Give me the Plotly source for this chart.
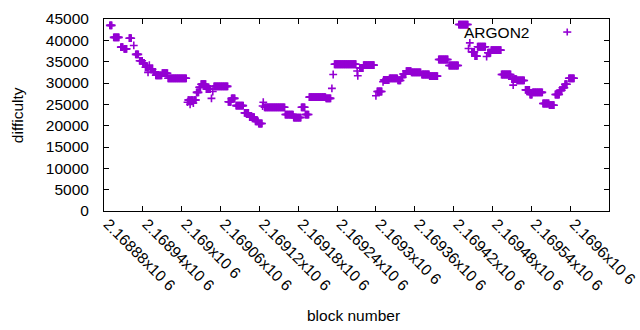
import plotly.graph_objects as go

# Runs of consecutive blocks sharing one difficulty value
run_start = [
    2168889, 2168895, 2168906, 2168911, 2168919, 2168926, 2168929, 2168935, 2168940, 2168944,
    2168948, 2168950, 2168952, 2168956, 2168960, 2168970, 2168979, 2169009, 2169010, 2169013,
    2169014, 2169018, 2169019, 2169023, 2169027, 2169030, 2169038, 2169046, 2169048, 2169050,
    2169072, 2169077, 2169084, 2169097, 2169105, 2169114, 2169119, 2169125, 2169126, 2169128,
    2169160, 2169173, 2169185, 2169191, 2169197, 2169223, 2169232, 2169234, 2169236, 2169271,
    2169272, 2169275, 2169281, 2169300, 2169302, 2169311, 2169312, 2169321, 2169334, 2169339,
    2169342, 2169347, 2169355, 2169371, 2169383, 2169397, 2169413, 2169428, 2169443, 2169445,
    2169448, 2169453, 2169457, 2169471, 2169473, 2169478, 2169494, 2169510, 2169512, 2169513,
    2169518, 2169531, 2169538, 2169542, 2169558, 2169568, 2169577, 2169584, 2169588, 2169592,
    2169598,
]
run_end = [
    2168892, 2168903, 2168909, 2168915, 2168922, 2168926, 2168933, 2168939, 2168942, 2168947,
    2168948, 2168950, 2168955, 2168959, 2168969, 2168978, 2169007, 2169009, 2169012, 2169013,
    2169017, 2169018, 2169022, 2169026, 2169029, 2169037, 2169044, 2169046, 2169048, 2169071,
    2169076, 2169082, 2169095, 2169103, 2169112, 2169118, 2169124, 2169125, 2169126, 2169159,
    2169172, 2169184, 2169190, 2169196, 2169222, 2169230, 2169232, 2169234, 2169269, 2169271,
    2169272, 2169280, 2169297, 2169300, 2169309, 2169311, 2169320, 2169333, 2169338, 2169341,
    2169346, 2169354, 2169369, 2169382, 2169395, 2169411, 2169427, 2169442, 2169443, 2169445,
    2169452, 2169456, 2169469, 2169471, 2169477, 2169493, 2169508, 2169511, 2169512, 2169517,
    2169529, 2169537, 2169541, 2169557, 2169567, 2169575, 2169583, 2169587, 2169591, 2169595,
    2169606,
]
run_difficulty = [
    43500, 40700, 38400, 38000, 40500, 38800, 36700, 35200, 34700, 33700,
    32500, 34200, 33200, 32600, 31800, 32300, 31100, 25500, 26000, 25000,
    26000, 25300, 26000, 27800, 29000, 29700, 28600, 26400, 28000, 29200,
    25600, 26400, 24700, 23000, 22000, 21000, 20500, 24600, 25500, 24300,
    22600, 21900, 24300, 22600, 26700, 26400, 28750, 32000, 34400, 32800,
    31700, 33500, 34200, 27000, 28000, 30300, 30700, 31100, 30600, 31300,
    32100, 32800, 32500, 32000, 31600, 35500, 34100, 43700, 38100, 39400,
    37300, 36300, 38500, 36200, 37100, 37700, 32000, 30900, 29500, 30900,
    30600, 28400, 27300, 27800, 25200, 24800, 27300, 28300, 28900, 29700,
    31100,
]

x_ticks = list(range(2168880, 2169661, 60))
x_tick_labels = [
    "2.16888x10 6", "2.16894x10 6", "2.169x10 6", "2.16906x10 6", "2.16912x10 6",
    "2.16918x10 6", "2.16924x10 6", "2.1693x10 6", "2.16936x10 6", "2.16942x10 6",
    "2.16948x10 6", "2.16954x10 6", "2.1696x10 6", "2.16966x10 6",
]
y_ticks = list(range(0, 45001, 5000))

blocks, difficulty = [], []
for s, e, d in zip(run_start, run_end, run_difficulty):
    for b in range(s, e + 1):
        blocks.append(b)
        difficulty.append(d)

PURPLE = "#9400D3"
FONT = "Liberation Sans, Arial, sans-serif"
FS = 15.5

fig = go.Figure()
fig.add_trace(go.Scatter(
    x=blocks, y=difficulty, mode="markers", name="ARGON2", showlegend=False,
    marker=dict(symbol="cross-thin", size=5.6, color=PURPLE,
                line=dict(color=PURPLE, width=1.6)),
))

axis_common = dict(
    showline=True, linecolor="black", linewidth=1, mirror="ticks",
    ticks="inside", ticklen=5, tickcolor="black", tickwidth=1,
    showgrid=False, zeroline=False, automargin=False,
    tickfont=dict(family=FONT, size=FS, color="black"),
)
fig.update_xaxes(range=[2168880, 2169660], tickvals=x_ticks, ticktext=x_tick_labels,
                 tickangle=45, ticklabelshift=4, ticklabelstandoff=-3, **axis_common)
fig.update_yaxes(range=[0, 45000], tickvals=y_ticks, ticktext=[str(v) for v in y_ticks],
                 ticklabelstandoff=11, **axis_common)

# gnuplot-style key: text, then sample to its right
fig.add_annotation(xref="paper", yref="paper", x=0.845, y=0.932, text="ARGON2",
                   showarrow=False, xanchor="right", yanchor="middle",
                   font=dict(family=FONT, size=FS, color="black"))
fig.add_shape(type="line", xref="paper", yref="paper", x0=0.9094, x1=0.9253, y0=0.932, y1=0.932,
              line=dict(color=PURPLE, width=1.6))
fig.add_shape(type="line", xref="paper", yref="paper", x0=0.9173, x1=0.9173, y0=0.9140, y1=0.9505,
              line=dict(color=PURPLE, width=1.6))

fig.add_annotation(xref="paper", yref="paper", x=-0.172, y=0.5, text="difficulty",
                   showarrow=False, textangle=-90, xanchor="center", yanchor="middle",
                   font=dict(family=FONT, size=FS, color="black"))
fig.add_annotation(xref="paper", yref="paper", x=0.495, y=-0.542, text="block number",
                   showarrow=False, xanchor="center", yanchor="middle",
                   font=dict(family=FONT, size=FS, color="black"))

fig.update_layout(
    width=640, height=330,
    margin=dict(l=104, r=31, t=19, b=119),
    paper_bgcolor="white", plot_bgcolor="white",
    font=dict(family=FONT, size=FS, color="black"),
)

fig.write_html("out.html", config={"displayModeBar": False},
               post_script="document.body.style.margin='0';")
